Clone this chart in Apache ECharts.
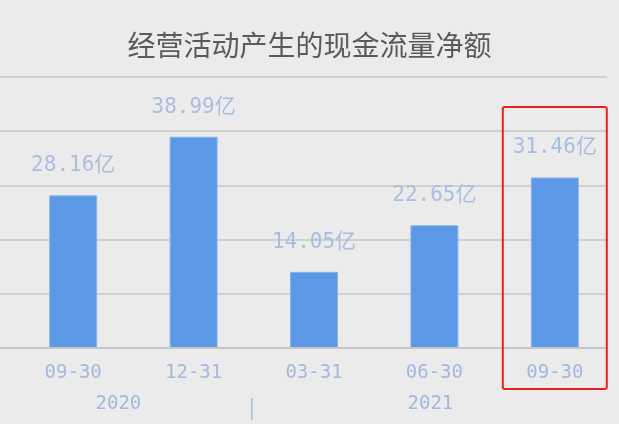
<!DOCTYPE html>
<html>
<head>
<meta charset="utf-8">
<script src="https://cdn.jsdelivr.net/npm/echarts@6/dist/echarts.min.js"></script>
<style>
html,body{margin:0;padding:0;background:#ebebeb;}
#main{width:619px;height:424px;}
</style>
</head>
<body>
<div id="main"></div>
<script>
var titleText = '经营活动产生的现金流量净额';
var categories = ['09-30', '12-31', '03-31', '06-30', '09-30'];
var values = [28.16, 38.99, 14.05, 22.65, 31.46];
var years = ['2020', '2021'];
var yearSpans = [[0, 1], [2, 4]];
var highlightIndex = 4;
var yMin = 0, yMax = 50, yInterval = 10;

var labelFont = "'DejaVu Sans Mono', 'Noto Sans CJK SC', sans-serif";
var chart = echarts.init(document.getElementById('main'), null, {renderer: 'canvas'});
var option = {
  backgroundColor: '#ebebeb',
  animation: false,
  title: {
    text: titleText,
    left: 'center',
    top: 26,
    textStyle: {color: '#5a5a5a', fontSize: 28, fontWeight: 'normal', fontFamily: "'Noto Sans CJK SC', sans-serif"}
  },
  grid: [
    {left: 0, right: 12, top: 77, bottom: 76},
    {left: 13, right: 4, top: 77, bottom: 76}
  ],
  xAxis: [
    {type: 'category', gridIndex: 0, data: categories, show: false},
    {type: 'category', gridIndex: 1, data: categories,
      axisLine: {show: false}, axisTick: {show: false},
      axisLabel: {color: '#a3b8de', fontSize: 19, margin: 16, fontFamily: labelFont}}
  ],
  yAxis: [
    {type: 'value', gridIndex: 0, min: yMin, max: yMax, interval: yInterval,
      axisLabel: {show: false}, axisLine: {show: false}, axisTick: {show: false},
      splitLine: {show: true, lineStyle: {color: '#d0d0d0', width: 2}}},
    {type: 'value', gridIndex: 1, min: yMin, max: yMax, interval: yInterval, show: false,
      splitLine: {show: false}}
  ],
  series: [{
    type: 'bar',
    xAxisIndex: 1,
    yAxisIndex: 1,
    data: values,
    barWidth: 48,
    itemStyle: {color: '#5b98e6', borderColor: '#8ab4ee', borderWidth: 1},
    label: {
      show: true, position: 'top', distance: 19,
      formatter: function (p) { return p.value.toFixed(2) + '亿'; },
      color: '#a9bde0', fontSize: 21, fontFamily: labelFont
    }
  }]
};
chart.setOption(option);

// axis baseline + decorations placed through the chart's own scales
var g = [];
var y0 = chart.convertToPixel({yAxisIndex: 1}, yMin);
var yTop = chart.convertToPixel({yAxisIndex: 0}, yMax);
var band = chart.convertToPixel({xAxisIndex: 1}, 1) - chart.convertToPixel({xAxisIndex: 1}, 0);
g.push({type: 'line', shape: {x1: 0, y1: y0, x2: 607, y2: y0}, style: {stroke: '#c6c6c6', lineWidth: 2}, z: 5});
years.forEach(function (yr, i) {
  var a = chart.convertToPixel({xAxisIndex: 1}, yearSpans[i][0]);
  var b = chart.convertToPixel({xAxisIndex: 1}, yearSpans[i][1]);
  var cx = (a + b) / 2 - (i === 0 ? 15 : 4);
  g.push({type: 'text', x: cx, y: y0 + 56, style: {text: yr, fill: '#a3b8de', fontSize: 19, fontFamily: labelFont, align: 'center', verticalAlign: 'middle'}});
});
var sepX = chart.convertToPixel({xAxisIndex: 1}, yearSpans[1][0]) - band / 2;
g.push({type: 'line', shape: {x1: sepX - 2, y1: y0 + 50, x2: sepX - 2, y2: y0 + 72}, style: {stroke: '#a3b8de', lineWidth: 1.5}});
var hx = chart.convertToPixel({xAxisIndex: 1}, highlightIndex);
g.push({type: 'rect', shape: {x: hx - 52, y: yTop + 30, width: 104, height: (y0 + 41) - (yTop + 30), r: 2},
  style: {fill: 'none', stroke: '#e8231f', lineWidth: 2}, z: 10});
chart.setOption({graphic: g});
</script>
</body>
</html>
